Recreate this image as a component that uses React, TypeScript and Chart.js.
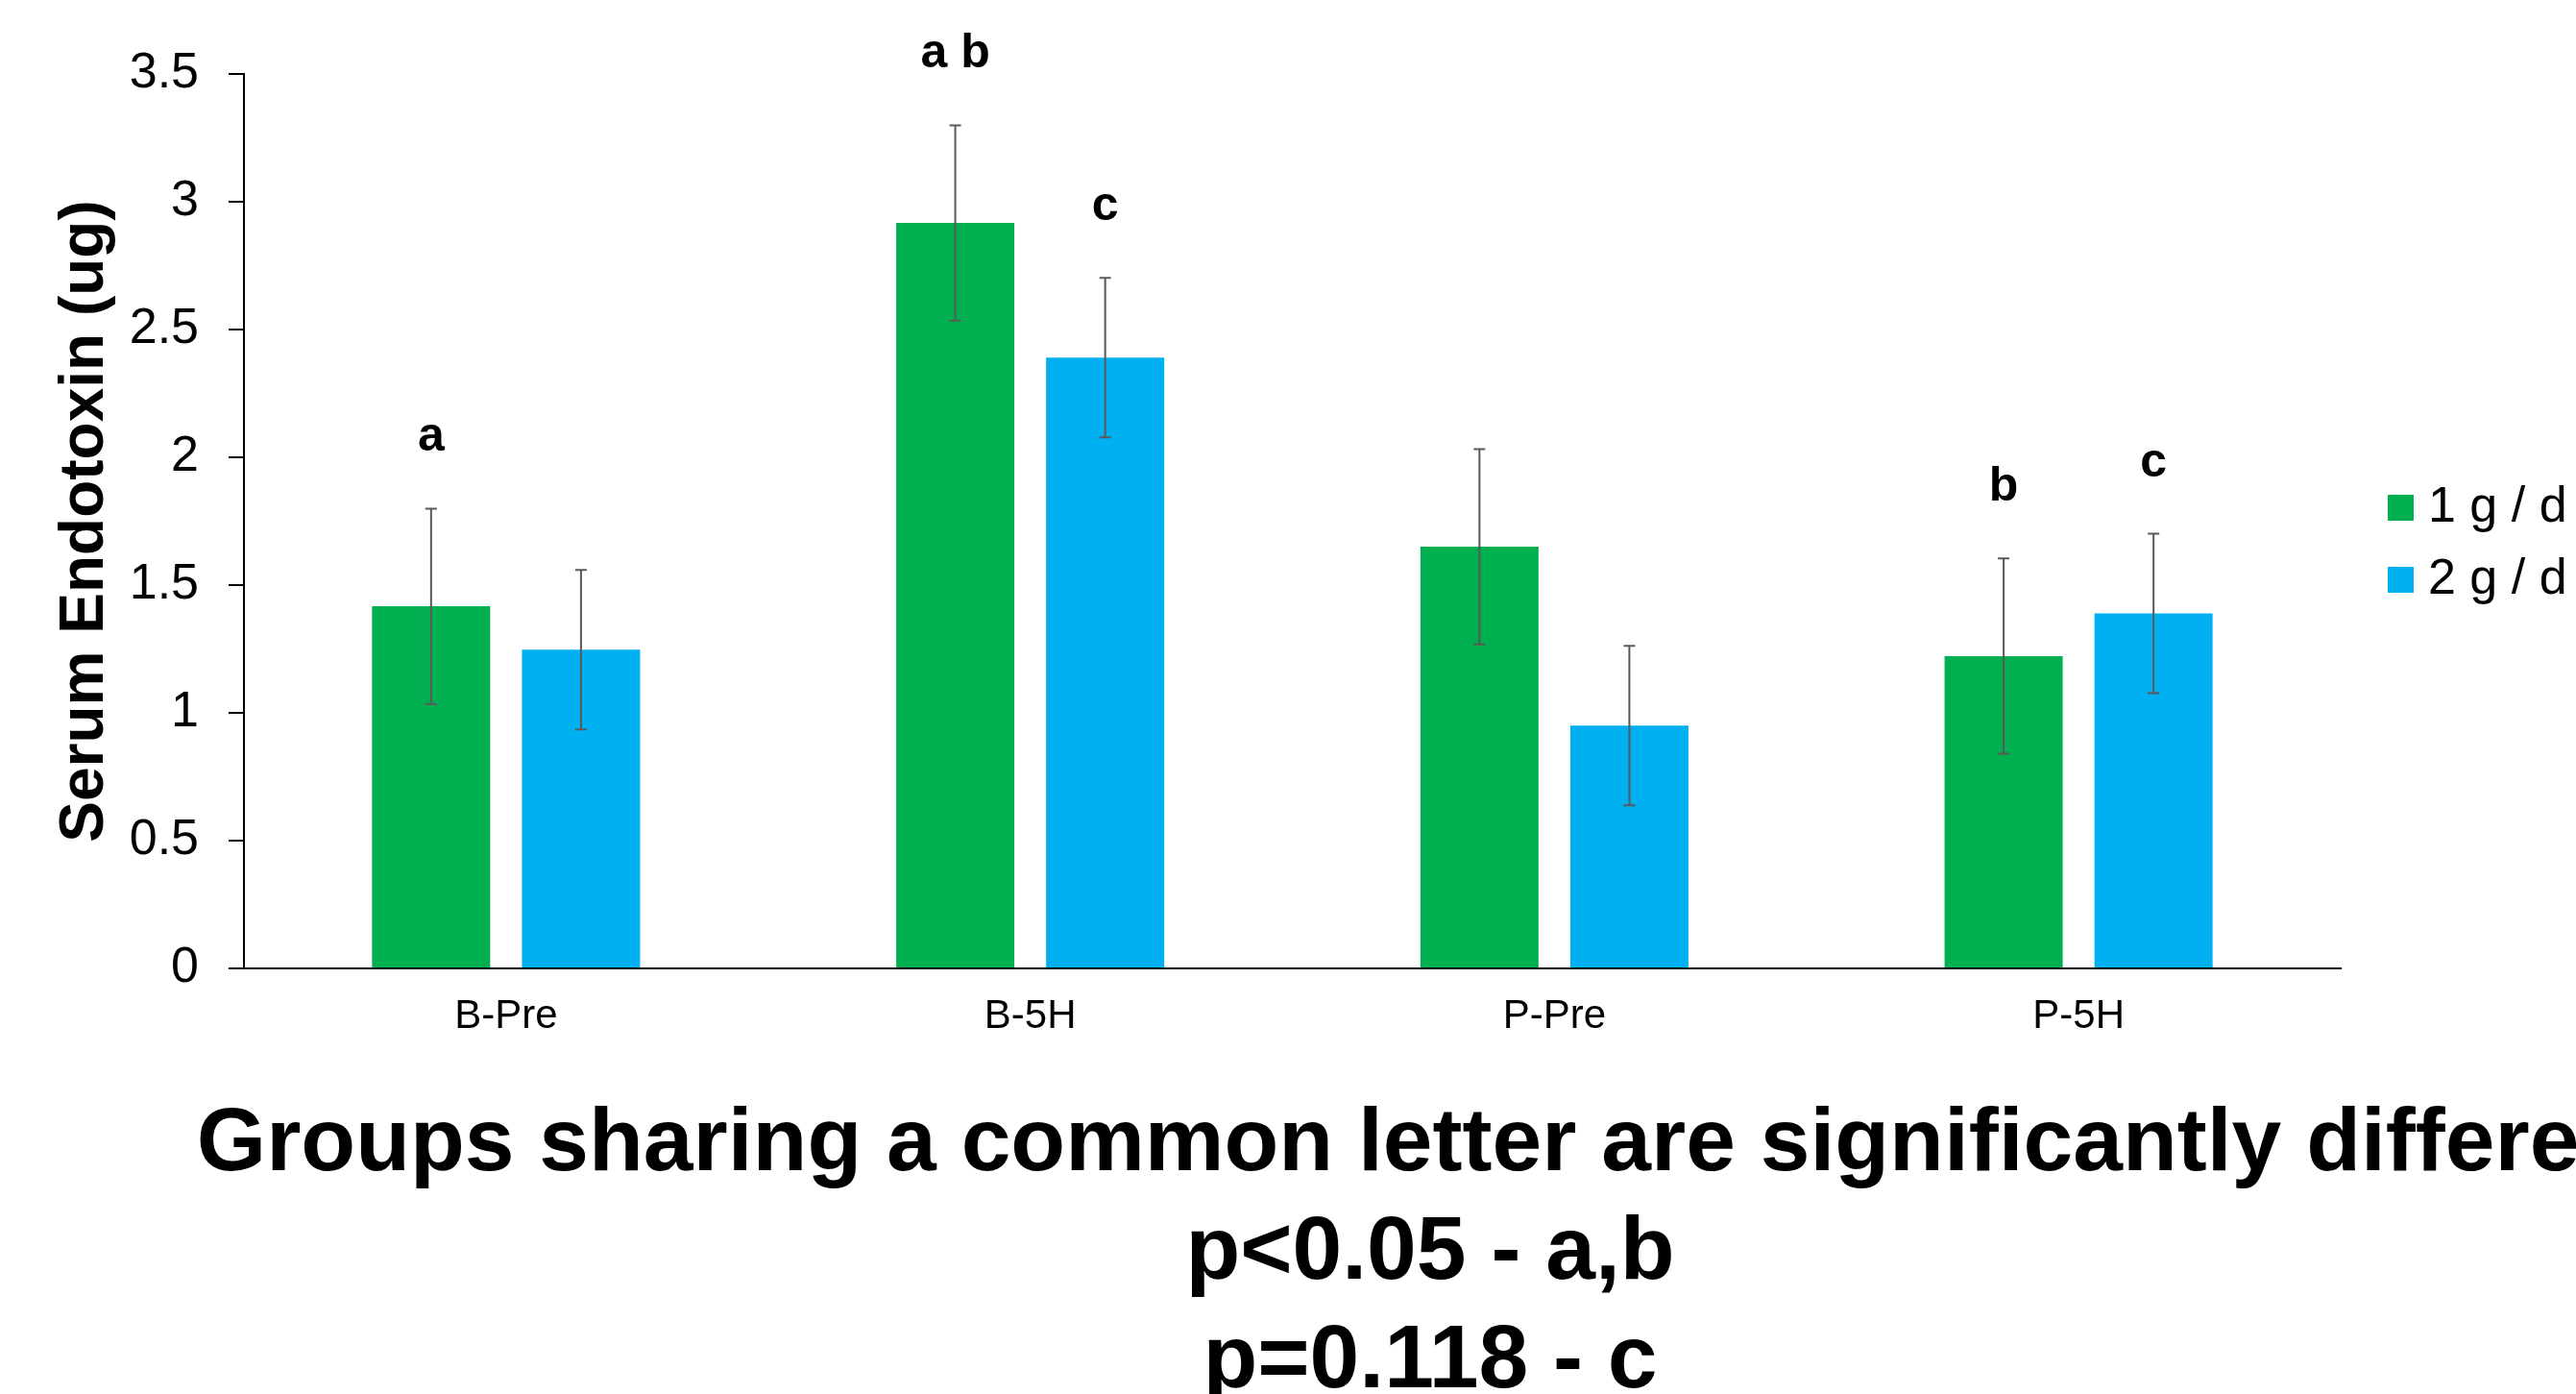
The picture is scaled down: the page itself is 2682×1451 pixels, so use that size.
import React, { useEffect, useRef } from "react";
import { Chart, registerables } from "chart.js";

Chart.register(...registerables);

const categories = ["B-Pre", "B-5H", "P-Pre", "P-5H"];
const seriesNames = ["1 g / d", "2 g / d"];
const seriesColors = ["#00B050", "#00B0F0"];
const values1 = [1.417, 2.917, 1.65, 1.222];
const values2 = [1.247, 2.39, 0.95, 1.389];
const errors1 = [0.382, 0.382, 0.382, 0.382];
const errors2 = [0.312, 0.312, 0.312, 0.312];
const letters1 = ["a", "a b", "", "b"];
const letters2 = ["", "c", "", "c"];
const yMin = 0;
const yMax = 3.5;
const yStep = 0.5;
const yAxisTitle = "Serum Endotoxin (ug)";
const noteLines = [
  "Groups sharing a common letter are significantly different",
  "p<0.05 - a,b",
  "p=0.118 - c",
];

const FONT = '"Liberation Sans", Arial, Helvetica, sans-serif';
const W = 2682;
const H = 1451;

const errorSets = [errors1, errors2];
const letterSets = [letters1, letters2];

const extrasPlugin = {
  id: "extras",
  afterDatasetsDraw(chart: any) {
    const ctx = chart.ctx;
    const yScale = chart.scales.y;
    ctx.save();
    chart.data.datasets.forEach((ds: any, di: number) => {
      const meta = chart.getDatasetMeta(di);
      meta.data.forEach((bar: any, i: number) => {
        const v = ds.data[i];
        const e = errorSets[di][i];
        const x = bar.x;
        const yTop = yScale.getPixelForValue(v + e);
        const yBot = yScale.getPixelForValue(v - e);
        ctx.strokeStyle = "#595959";
        ctx.lineWidth = 2;
        ctx.beginPath();
        ctx.moveTo(x, yTop);
        ctx.lineTo(x, yBot);
        ctx.moveTo(x - 6, yTop);
        ctx.lineTo(x + 6, yTop);
        ctx.moveTo(x - 6, yBot);
        ctx.lineTo(x + 6, yBot);
        ctx.stroke();
        const letter = letterSets[di][i];
        if (letter) {
          ctx.fillStyle = "#000";
          ctx.font = `bold 50px ${FONT}`;
          ctx.textAlign = "center";
          ctx.textBaseline = "alphabetic";
          ctx.fillText(letter, x, yTop - 60);
        }
      });
    });
    ctx.restore();
  },
  afterDraw(chart: any) {
    const ctx = chart.ctx;
    const area = chart.chartArea;
    ctx.save();
    // legend
    const mid = (area.top + area.bottom) / 2;
    chart.data.datasets.forEach((ds: any, di: number) => {
      const cy = mid - 14 + di * 75;
      const sx = area.right + 49;
      ctx.fillStyle = ds.backgroundColor;
      ctx.fillRect(sx, cy - 13.5, 27, 27);
      ctx.fillStyle = "#000";
      ctx.font = `52px ${FONT}`;
      ctx.textAlign = "left";
      ctx.textBaseline = "middle";
      ctx.fillText(ds.label, sx + 42, cy);
    });
    // notes
    ctx.fillStyle = "#000";
    ctx.font = `bold 93px ${FONT}`;
    ctx.textAlign = "center";
    ctx.textBaseline = "alphabetic";
    noteLines.forEach((line, i) => {
      ctx.fillText(line, 1489, 1218 + i * 113);
    });
    ctx.restore();
  },
};

export default function App() {
  const ref = useRef<HTMLCanvasElement | null>(null);
  useEffect(() => {
    if (!ref.current) return;
    const chart = new Chart(ref.current, {
      type: "bar",
      data: {
        labels: categories,
        datasets: [
          {
            label: seriesNames[0],
            data: values1,
            backgroundColor: seriesColors[0],
            categoryPercentage: 0.572,
            barPercentage: 0.788,
          },
          {
            label: seriesNames[1],
            data: values2,
            backgroundColor: seriesColors[1],
            categoryPercentage: 0.572,
            barPercentage: 0.788,
          },
        ],
      },
      options: {
        animation: false,
        responsive: false,
        devicePixelRatio: 1,
        layout: { padding: { top: 77, right: 245, bottom: 323, left: 0 } },
        plugins: {
          legend: { display: false },
          tooltip: { enabled: false },
        },
        scales: {
          x: {
            grid: { display: false, drawTicks: false },
            border: { display: true, color: "#000", width: 2 },
            ticks: {
              color: "#000",
              padding: 25,
              font: { family: FONT, size: 42 },
            },
            afterFit: (s: any) => {
              s.height = 120;
            },
          },
          y: {
            min: yMin,
            max: yMax,
            grid: {
              display: true,
              drawOnChartArea: false,
              drawTicks: true,
              tickLength: 16,
              color: "#000",
              lineWidth: 2,
            },
            border: { display: true, color: "#000", width: 2 },
            ticks: {
              stepSize: yStep,
              color: "#000",
              padding: 31,
              font: { family: FONT, size: 52 },
              callback: (value: any) => `${Number(value)}`,
            },
            title: {
              display: true,
              text: yAxisTitle,
              color: "#000",
              padding: { top: 51, bottom: 0 },
              font: { family: FONT, size: 64, weight: "bold" },
            },
            afterFit: (s: any) => {
              s.width = 254;
            },
          },
        },
      },
      plugins: [extrasPlugin],
    });
    return () => chart.destroy();
  }, []);
  return (
    <div style={{ position: "fixed", left: 0, top: 0, width: W, height: H, background: "#fff" }}>
      <canvas ref={ref} width={W} height={H} style={{ display: "block", width: W, height: H }} />
    </div>
  );
}
